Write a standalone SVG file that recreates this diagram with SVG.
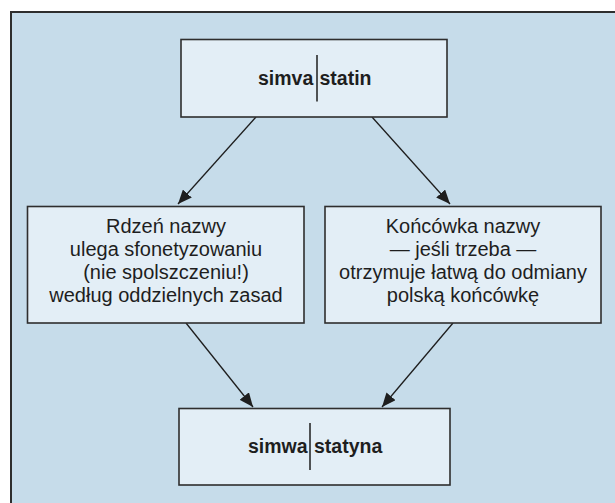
<svg xmlns="http://www.w3.org/2000/svg" width="615" height="503" viewBox="0 0 615 503">
<defs>
<style>
.box{fill:#e3eef6;stroke:#2e2e2e;stroke-width:1.6}
.t{font-family:"Liberation Sans",Arial,sans-serif;font-size:20px;fill:#1e1e1e;text-anchor:middle}
.b{font-family:"Liberation Sans",Arial,sans-serif;font-size:19.5px;font-weight:bold;fill:#1e1e1e}
.div{stroke:#1e1e1e;stroke-width:1.5}
.edge{stroke:#1e1e1e;stroke-width:1.3;fill:none;marker-end:url(#ah)}
</style>
<marker id="ah" markerUnits="userSpaceOnUse" markerWidth="14" markerHeight="12" viewBox="0 0 14 12" refX="14" refY="6" orient="auto">
<path d="M0,0 L14,6 L0,12 Z" fill="#1e1e1e"/>
</marker>
</defs>
<rect x="11" y="12" width="620" height="510" fill="#c6dcea" stroke="#2e2e2e" stroke-width="2"/>
<g id="connectors">
<line class="edge" x1="256" y1="117" x2="178" y2="204"/>
<line class="edge" x1="372" y1="117" x2="450" y2="204"/>
<line class="edge" x1="186" y1="323" x2="253" y2="407"/>
<line class="edge" x1="453" y1="323" x2="382" y2="407"/>
</g>
<g id="top">
<rect class="box" x="181" y="39.5" width="266" height="77.5"/>
<text class="b" x="258" y="85">simva</text>
<line class="div" x1="317" y1="55" x2="317" y2="101.5"/>
<text class="b" x="319.5" y="85">statin</text>
</g>
<g id="left">
<rect class="box" x="27.5" y="206.5" width="276.5" height="116.5"/>
<text class="t" x="166" y="233">Rdzeń nazwy</text>
<text class="t" x="166" y="256">ulega sfonetyzowaniu</text>
<text class="t" x="166" y="279">(nie spolszczeniu!)</text>
<text class="t" x="166" y="302">według oddzielnych zasad</text>
</g>
<g id="right">
<rect class="box" x="325" y="206.5" width="276" height="116.5"/>
<text class="t" x="463" y="233">Końcówka nazwy</text>
<text class="t" x="463" y="256">— jeśli trzeba —</text>
<text class="t" x="463" y="279">otrzymuje łatwą do odmiany</text>
<text class="t" x="463" y="302">polską końcówkę</text>
</g>
<g id="bottom">
<rect class="box" x="179" y="408.5" width="271" height="76.5"/>
<text class="b" x="248" y="452.7">simwa</text>
<line class="div" x1="310" y1="423" x2="310" y2="470"/>
<text class="b" x="314" y="452.7">statyna</text>
</g>
</svg>
